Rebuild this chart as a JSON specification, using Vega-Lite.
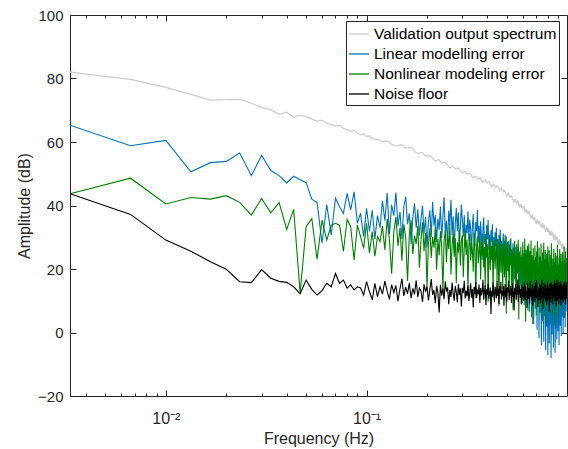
{
"$schema": "https://vega.github.io/schema/vega-lite/v6.json",
"width": 497, "height": 381,
"autosize": {"type": "none"},
"padding": {"left": 70, "top": 15, "right": 1, "bottom": 53},
"background": "white",
"config": {
 "view": {"stroke": "#262626", "strokeWidth": 1},
 "font": "Liberation Sans",
 "axis": {"domain": false, "tickColor": "#262626", "tickWidth": 1, "labelColor": "#262626", "titleColor": "#262626", "labelFont": "Liberation Sans", "titleFont": "Liberation Sans", "labelFontSize": 15, "titleFontSize": 16, "titleFontWeight": "normal", "grid": false, "labelOverlap": false, "labelFlush": false},
 "legend": {"orient": "none", "legendX": 276, "legendY": 6, "symbolType": "stroke", "symbolSize": 400, "symbolStrokeWidth": 1.3, "labelFontSize": 15.5, "labelFont": "Liberation Sans", "labelColor": "#000000", "strokeColor": "#262626", "fillColor": "#ffffff", "padding": 2, "rowPadding": 0, "labelOffset": 4, "labelLimit": 400}
},
"data": {"values": [
{"f":0.00333,"V":82.0,"L":65.3,"N":43.7,"F":43.7},
{"f":0.00667,"V":79.7,"L":58.8,"N":48.6,"F":37.2},
{"f":0.01,"V":77.2,"L":60.5,"N":40.5,"F":29.1},
{"f":0.01333,"V":75.0,"L":50.6,"N":42.5,"F":25.6},
{"f":0.01667,"V":73.2,"L":53.5,"N":42.0,"F":22.3},
{"f":0.02,"V":73.3,"L":53.9,"N":43.1,"F":19.9},
{"f":0.02333,"V":73.4,"L":56.5,"N":41.0,"F":16.0},
{"f":0.02667,"V":72.2,"L":49.4,"N":37.0,"F":15.7},
{"f":0.03,"V":70.9,"L":55.8,"N":42.2,"F":19.8},
{"f":0.03333,"V":70.1,"L":51.0,"N":37.7,"F":17.1},
{"f":0.03667,"V":68.7,"L":49.4,"N":40.9,"F":16.1},
{"f":0.04,"V":69.4,"L":47.1,"N":32.5,"F":15.8},
{"f":0.04333,"V":67.8,"L":49.2,"N":38.8,"F":14.4},
{"f":0.04667,"V":68.5,"L":48.1,"N":12.5,"F":12.2},
{"f":0.05,"V":68.0,"L":47.2,"N":33.3,"F":16.5},
{"f":0.05333,"V":67.2,"L":42.0,"N":35.9,"F":13.6},
{"f":0.05667,"V":66.6,"L":41.0,"N":23.1,"F":11.8},
{"f":0.06,"V":66.9,"L":28.1,"N":35.4,"F":13.2},
{"f":0.06333,"V":65.9,"L":40.3,"N":29.1,"F":15.5},
{"f":0.06667,"V":65.5,"L":30.7,"N":33.8,"F":14.4},
{"f":0.07,"V":65.0,"L":42.3,"N":34.4,"F":18.6},
{"f":0.07333,"V":65.3,"L":39.6,"N":33.8,"F":15.5},
{"f":0.07667,"V":64.2,"L":37.5,"N":25.5,"F":16.5},
{"f":0.08,"V":63.9,"L":43.8,"N":35.6,"F":14.0},
{"f":0.08333,"V":63.4,"L":38.6,"N":33.3,"F":15.0},
{"f":0.08667,"V":63.6,"L":44.3,"N":22.8,"F":13.4},
{"f":0.09,"V":62.8,"L":34.4,"N":33.8,"F":14.4},
{"f":0.09333,"V":62.3,"L":37.5,"N":30.2,"F":14.0},
{"f":0.09667,"V":62.6,"L":30.2,"N":26.5,"F":11.8},
{"f":0.1,"V":61.7,"L":39.1,"N":34.4,"F":16.0},
{"f":0.1033,"V":61.9,"L":31.8,"N":25.0,"F":12.9},
{"f":0.1067,"V":61.2,"L":38.5,"N":31.8,"F":10.3},
{"f":0.11,"V":60.8,"L":29.5,"N":24.0,"F":15.5},
{"f":0.1133,"V":61.0,"L":36.8,"N":30.2,"F":11.3},
{"f":0.1167,"V":60.4,"L":33.0,"N":28.6,"F":14.4},
{"f":0.12,"V":60.2,"L":41.5,"N":33.5,"F":12.1},
{"f":0.1233,"V":60.3,"L":35.2,"N":26.0,"F":16.2},
{"f":0.1267,"V":60.3,"L":43.9,"N":35.8,"F":13.0},
{"f":0.13,"V":59.9,"L":31.0,"N":29.1,"F":10.4},
{"f":0.1333,"V":59.3,"L":40.2,"N":18.5,"F":15.1},
{"f":0.1367,"V":58.9,"L":36.8,"N":31.7,"F":12.6},
{"f":0.14,"V":58.7,"L":44.1,"N":36.4,"F":14.8},
{"f":0.1433,"V":58.8,"L":33.5,"N":27.3,"F":9.9},
{"f":0.1467,"V":59.1,"L":38.0,"N":32.9,"F":13.7},
{"f":0.15,"V":59.2,"L":29.4,"N":22.6,"F":17.0},
{"f":0.1533,"V":58.7,"L":39.6,"N":34.1,"F":11.5},
{"f":0.1567,"V":58.1,"L":42.8,"N":29.8,"F":14.3},
{"f":0.16,"V":58.2,"L":34.1,"N":16.2,"F":12.2},
{"f":0.1633,"V":58.3,"L":37.5,"N":31.0,"F":15.6},
{"f":0.1667,"V":58.2,"L":27.9,"N":35.3,"F":10.8},
{"f":0.17,"V":57.8,"L":36.2,"N":24.7,"F":13.9},
{"f":0.1733,"V":57.2,"L":40.7,"N":30.5,"F":12.0},
{"f":0.1767,"V":56.7,"L":33.0,"N":27.9,"F":16.4},
{"f":0.18,"V":56.4,"L":38.8,"N":33.6,"F":11.2},
{"f":0.1833,"V":56.5,"L":30.5,"N":20.4,"F":14.0},
{"f":0.1867,"V":56.7,"L":35.7,"N":29.2,"F":13.1},
{"f":0.19,"V":56.7,"L":39.9,"N":34.7,"F":9.6},
{"f":0.1933,"V":56.1,"L":31.2,"N":25.6,"F":15.2},
{"f":0.1967,"V":55.5,"L":36.4,"N":31.4,"F":12.8},
{"f":0.2,"V":55.6,"L":26.8,"N":14.1,"F":14.5},
{"f":0.2033,"V":55.7,"L":34.9,"N":28.0,"F":10.1},
{"f":0.2067,"V":55.7,"L":38.5,"N":32.8,"F":13.6},
{"f":0.21,"V":55.3,"L":30.1,"N":23.5,"F":16.8},
{"f":0.2133,"V":54.8,"L":41.2,"N":30.1,"F":11.9},
{"f":0.2167,"V":54.3,"L":33.6,"N":26.7,"F":13.3},
{"f":0.22,"V":54.0,"L":37.0,"N":33.2,"F":9.2},
{"f":0.2233,"V":54.1,"L":28.5,"N":19.8,"F":14.7},
{"f":0.2267,"V":54.4,"L":35.8,"N":29.5,"F":12.4},
{"f":0.23,"V":54.4,"L":32.4,"N":24.3,"F":6.3},
{"f":0.2333,"V":53.9,"L":39.7,"N":31.9,"F":15.0},
{"f":0.2367,"V":53.3,"L":29.8,"N":27.0,"F":11.6},
{"f":0.24,"V":53.4,"L":36.1,"N":12.9,"F":13.8},
{"f":0.2433,"V":53.6,"L":42.6,"N":28.8,"F":10.5},
{"f":0.2467,"V":53.6,"L":31.5,"N":32.2,"F":16.1},
{"f":0.25,"V":53.2,"L":35.2,"N":22.1,"F":12.9},
{"f":0.2533,"V":52.6,"L":27.6,"N":30.6,"F":14.2},
{"f":0.2567,"V":52.2,"L":38.4,"N":26.2,"F":8.9},
{"f":0.26,"V":51.9,"L":33.9,"N":34.0,"F":13.4},
{"f":0.2633,"V":52.0,"L":41.8,"N":18.3,"F":11.1},
{"f":0.2667,"V":52.3,"L":30.7,"N":27.5,"F":15.7},
{"f":0.27,"V":52.3,"L":36.6,"N":31.1,"F":12.3},
{"f":0.2733,"V":51.9,"L":25.9,"N":23.9,"F":10.0},
{"f":0.2767,"V":51.4,"L":34.3,"N":29.7,"F":14.6},
{"f":0.28,"V":51.6,"L":39.2,"N":15.6,"F":12.7},
{"f":0.2833,"V":51.7,"L":32.0,"N":28.4,"F":9.5},
{"f":0.2867,"V":51.8,"L":37.8,"N":25.1,"F":15.3},
{"f":0.29,"V":51.5,"L":28.4,"N":32.5,"F":11.8},
{"f":0.2933,"V":50.9,"L":33.1,"N":21.0,"F":13.9},
{"f":0.2967,"V":50.5,"L":40.3,"N":28.9,"F":8.2},
{"f":0.3,"V":50.3,"L":35.5,"N":30.7,"F":14.1},
{"f":0.3033,"V":50.4,"L":30.2,"N":17.4,"F":12.5},
{"f":0.3067,"V":50.7,"L":36.9,"N":26.6,"F":16.3},
{"f":0.31,"V":50.8,"L":26.7,"N":31.8,"F":10.7},
{"f":0.3133,"V":50.4,"L":34.0,"N":24.5,"F":13.2},
{"f":0.3167,"V":49.8,"L":31.3,"N":29.3,"F":11.4},
{"f":0.32,"V":50.0,"L":38.1,"N":13.2,"F":14.8},
{"f":0.3233,"V":50.2,"L":29.0,"N":27.4,"F":9.9},
{"f":0.3267,"V":50.2,"L":35.6,"N":30.9,"F":12.6},
{"f":0.33,"V":49.9,"L":32.7,"N":22.7,"F":15.5},
{"f":0.3333,"V":49.4,"L":24.8,"N":28.2,"F":11.0},
{"f":0.3367,"V":48.9,"L":33.4,"N":25.9,"F":13.7},
{"f":0.34,"V":48.7,"L":37.3,"N":19.1,"F":7.9},
{"f":0.3433,"V":48.9,"L":30.6,"N":31.5,"F":14.4},
{"f":0.3467,"V":49.2,"L":27.2,"N":26.3,"F":12.1},
{"f":0.35,"V":49.2,"L":34.8,"N":10.8,"F":16.0},
{"f":0.3533,"V":48.8,"L":31.9,"N":27.1,"F":10.9},
{"f":0.3567,"V":48.4,"L":38.6,"N":30.2,"F":13.5},
{"f":0.36,"V":48.3,"L":28.3,"N":21.8,"F":12.0},
{"f":0.3633,"V":48.8,"L":33.5,"N":25.6,"F":15.1},
{"f":0.3667,"V":48.6,"L":26.1,"N":29.6,"F":9.4},
{"f":0.37,"V":48.6,"L":35.0,"N":16.7,"F":14.0},
{"f":0.3733,"V":47.8,"L":30.4,"N":28.5,"F":11.7},
{"f":0.3767,"V":47.7,"L":22.9,"N":24.2,"F":13.0},
{"f":0.38,"V":47.2,"L":32.6,"N":31.0,"F":16.6},
{"f":0.3833,"V":47.7,"L":36.2,"N":20.5,"F":10.3},
{"f":0.3867,"V":47.7,"L":27.8,"N":26.9,"F":12.8},
{"f":0.39,"V":48.1,"L":31.0,"N":14.4,"F":14.9},
{"f":0.3933,"V":47.4,"L":24.6,"N":29.9,"F":8.6},
{"f":0.3967,"V":47.2,"L":33.9,"N":23.6,"F":13.6},
{"f":0.4,"V":47.1,"L":29.3,"N":27.8,"F":11.9},
{"f":0.4033,"V":47.6,"L":35.4,"N":9.7,"F":15.4},
{"f":0.4067,"V":47.4,"L":26.0,"N":25.3,"F":10.6},
{"f":0.41,"V":47.4,"L":30.8,"N":30.4,"F":12.4},
{"f":0.4133,"V":46.5,"L":21.7,"N":19.6,"F":14.2},
{"f":0.4167,"V":46.4,"L":32.2,"N":27.2,"F":5.8},
{"f":0.42,"V":45.9,"L":28.6,"N":22.9,"F":13.1},
{"f":0.4233,"V":46.4,"L":34.1,"N":29.1,"F":11.3},
{"f":0.4267,"V":46.4,"L":25.3,"N":12.3,"F":15.8},
{"f":0.43,"V":46.8,"L":30.0,"N":26.0,"F":12.2},
{"f":0.4333,"V":46.1,"L":22.4,"N":28.7,"F":9.7},
{"f":0.4367,"V":45.9,"L":31.6,"N":20.1,"F":14.5},
{"f":0.44,"V":45.8,"L":27.2,"N":24.8,"F":12.9},
{"f":0.4433,"V":46.3,"L":33.0,"N":30.6,"F":10.8},
{"f":0.4467,"V":46.1,"L":24.1,"N":15.9,"F":16.2},
{"f":0.45,"V":46.1,"L":29.5,"N":27.7,"F":11.5},
{"f":0.4533,"V":45.3,"L":20.8,"N":23.2,"F":13.8},
{"f":0.4567,"V":45.2,"L":30.7,"N":8.4,"F":9.0},
{"f":0.46,"V":44.7,"L":26.5,"N":26.5,"F":14.6},
{"f":0.4633,"V":45.2,"L":32.4,"N":29.4,"F":12.3},
{"f":0.4667,"V":45.2,"L":23.3,"N":18.9,"F":15.9},
{"f":0.47,"V":45.6,"L":28.9,"N":25.0,"F":10.4},
{"f":0.4733,"V":44.8,"L":18.7,"N":28.3,"F":13.2},
{"f":0.4767,"V":44.6,"L":27.6,"N":13.6,"F":11.6},
{"f":0.48,"V":44.4,"L":31.2,"N":24.4,"F":14.7},
{"f":0.4833,"V":44.9,"L":24.0,"N":27.9,"F":8.4},
{"f":0.4867,"V":44.5,"L":29.0,"N":17.5,"F":12.7},
{"f":0.49,"V":44.6,"L":21.5,"N":30.8,"F":15.3},
{"f":0.4933,"V":43.7,"L":26.8,"N":22.3,"F":11.0},
{"f":0.4967,"V":43.6,"L":30.3,"N":5.9,"F":13.9},
{"f":0.5,"V":43.0,"L":19.4,"N":26.2,"F":9.8},
{"f":0.5033,"V":43.5,"L":27.3,"N":28.6,"F":14.3},
{"f":0.5067,"V":43.4,"L":23.8,"N":19.3,"F":12.5},
{"f":0.51,"V":43.8,"L":28.7,"N":24.1,"F":16.4},
{"f":0.5133,"V":43.0,"L":17.6,"N":11.4,"F":10.2},
{"f":0.5167,"V":42.8,"L":25.9,"N":27.5,"F":13.4},
{"f":0.52,"V":42.6,"L":29.4,"N":21.2,"F":11.7},
{"f":0.5233,"V":43.1,"L":22.1,"N":29.7,"F":14.8},
{"f":0.5267,"V":42.8,"L":26.2,"N":15.0,"F":9.3},
{"f":0.53,"V":42.8,"L":14.8,"N":25.8,"F":13.0},
{"f":0.5333,"V":41.9,"L":24.7,"N":23.0,"F":15.6},
{"f":0.5367,"V":41.8,"L":28.1,"N":7.2,"F":11.2},
{"f":0.54,"V":41.2,"L":20.3,"N":26.7,"F":12.8},
{"f":0.5433,"V":41.7,"L":25.4,"N":20.4,"F":6.9},
{"f":0.5467,"V":41.5,"L":16.9,"N":28.9,"F":14.1},
{"f":0.55,"V":42.1,"L":27.0,"N":16.3,"F":12.0},
{"f":0.5533,"V":41.1,"L":22.7,"N":24.6,"F":15.2},
{"f":0.5567,"V":41.1,"L":13.5,"N":10.1,"F":10.5},
{"f":0.56,"V":40.7,"L":24.2,"N":27.8,"F":13.6},
{"f":0.5633,"V":41.5,"L":26.9,"N":22.0,"F":11.9},
{"f":0.5667,"V":40.9,"L":18.6,"N":18.6,"F":16.7},
{"f":0.57,"V":41.2,"L":23.1,"N":29.2,"F":9.6},
{"f":0.5733,"V":40.0,"L":11.9,"N":4.1,"F":13.3},
{"f":0.5767,"V":40.2,"L":25.6,"N":25.2,"F":12.2},
{"f":0.58,"V":39.4,"L":20.0,"N":21.5,"F":14.9},
{"f":0.5833,"V":40.1,"L":15.7,"N":14.7,"F":10.9},
{"f":0.5867,"V":39.8,"L":24.4,"N":27.0,"F":13.7},
{"f":0.59,"V":40.4,"L":19.2,"N":19.9,"F":8.8},
{"f":0.5933,"V":39.4,"L":9.8,"N":23.8,"F":15.0},
{"f":0.5967,"V":39.4,"L":22.6,"N":9.3,"F":12.4},
{"f":0.6,"V":39.0,"L":26.0,"N":28.4,"F":11.1},
{"f":0.6033,"V":39.8,"L":16.4,"N":17.1,"F":14.4},
{"f":0.6067,"V":39.2,"L":21.3,"N":24.9,"F":9.9},
{"f":0.61,"V":39.5,"L":8.7,"N":12.2,"F":16.0},
{"f":0.6133,"V":38.3,"L":23.5,"N":29.6,"F":12.6},
{"f":0.6167,"V":38.5,"L":18.1,"N":20.7,"F":10.3},
{"f":0.62,"V":37.7,"L":12.6,"N":3.4,"F":14.5},
{"f":0.6233,"V":38.4,"L":22.0,"N":26.1,"F":11.8},
{"f":0.6267,"V":38.1,"L":25.1,"N":22.6,"F":13.1},
{"f":0.63,"V":38.7,"L":14.9,"N":15.5,"F":7.7},
{"f":0.6333,"V":37.7,"L":20.4,"N":27.3,"F":15.5},
{"f":0.6367,"V":37.7,"L":6.9,"N":11.0,"F":12.0},
{"f":0.64,"V":37.3,"L":21.8,"N":23.4,"F":10.6},
{"f":0.6433,"V":38.3,"L":17.3,"N":28.0,"F":14.0},
{"f":0.6467,"V":37.3,"L":24.3,"N":6.5,"F":13.0},
{"f":0.65,"V":38.0,"L":10.5,"N":21.9,"F":9.1},
{"f":0.6533,"V":36.4,"L":19.5,"N":25.7,"F":16.3},
{"f":0.6567,"V":37.0,"L":15.2,"N":16.8,"F":11.4},
{"f":0.66,"V":35.7,"L":22.9,"N":29.0,"F":13.9},
{"f":0.6633,"V":36.9,"L":4.8,"N":13.4,"F":12.5},
{"f":0.6667,"V":36.1,"L":18.7,"N":24.3,"F":10.0},
{"f":0.67,"V":37.2,"L":21.4,"N":19.0,"F":15.1},
{"f":0.6733,"V":35.7,"L":11.2,"N":2.7,"F":8.5},
{"f":0.6767,"V":36.2,"L":16.8,"N":26.6,"F":13.5},
{"f":0.68,"V":35.3,"L":2.6,"N":18.2,"F":11.6},
{"f":0.6833,"V":36.5,"L":20.1,"N":22.8,"F":14.6},
{"f":0.6867,"V":35.5,"L":14.3,"N":10.6,"F":12.2},
{"f":0.69,"V":36.2,"L":23.0,"N":27.4,"F":9.5},
{"f":0.6933,"V":34.7,"L":7.5,"N":15.9,"F":15.8},
{"f":0.6967,"V":35.3,"L":17.9,"N":23.7,"F":11.0},
{"f":0.7,"V":34.1,"L":12.1,"N":5.3,"F":13.4},
{"f":0.7033,"V":35.3,"L":19.8,"N":25.5,"F":16.5},
{"f":0.7067,"V":34.6,"L":0.9,"N":20.2,"F":10.7},
{"f":0.71,"V":35.7,"L":15.6,"N":28.7,"F":12.9},
{"f":0.7133,"V":34.3,"L":21.7,"N":12.8,"F":8.0},
{"f":0.7167,"V":34.8,"L":9.0,"N":21.1,"F":14.2},
{"f":0.72,"V":34.0,"L":16.4,"N":17.3,"F":11.3},
{"f":0.7233,"V":35.2,"L":-1.8,"N":26.8,"F":13.7},
{"f":0.7267,"V":34.3,"L":13.7,"N":8.0,"F":10.1},
{"f":0.73,"V":35.0,"L":19.3,"N":24.0,"F":15.3},
{"f":0.7333,"V":33.5,"L":6.2,"N":19.6,"F":12.4},
{"f":0.7367,"V":34.1,"L":15.0,"N":13.9,"F":9.2},
{"f":0.74,"V":32.9,"L":10.8,"N":27.9,"F":14.8},
{"f":0.7433,"V":34.1,"L":-4.1,"N":4.6,"F":11.9},
{"f":0.7467,"V":33.4,"L":18.2,"N":22.5,"F":16.9},
{"f":0.75,"V":34.5,"L":12.5,"N":16.0,"F":10.4},
{"f":0.7533,"V":33.1,"L":3.7,"N":25.2,"F":13.2},
{"f":0.7567,"V":33.6,"L":16.9,"N":11.5,"F":7.3},
{"f":0.76,"V":32.8,"L":8.4,"N":20.9,"F":14.3},
{"f":0.7633,"V":34.0,"L":-2.9,"N":28.3,"F":12.1},
{"f":0.7667,"V":33.1,"L":14.6,"N":14.2,"F":15.7},
{"f":0.77,"V":33.8,"L":20.5,"N":23.1,"F":10.8},
{"f":0.7733,"V":32.3,"L":5.1,"N":7.8,"F":13.6},
{"f":0.7767,"V":32.9,"L":11.7,"N":26.0,"F":9.7},
{"f":0.78,"V":31.7,"L":-5.6,"N":18.4,"F":15.0},
{"f":0.7833,"V":32.9,"L":13.8,"N":3.0,"F":11.5},
{"f":0.7867,"V":32.2,"L":17.4,"N":21.6,"F":14.1},
{"f":0.79,"V":33.3,"L":1.9,"N":24.7,"F":8.7},
{"f":0.7933,"V":31.9,"L":9.6,"N":12.4,"F":12.7},
{"f":0.7967,"V":32.4,"L":15.3,"N":19.2,"F":16.2},
{"f":0.8,"V":31.6,"L":-7.2,"N":27.1,"F":10.2},
{"f":0.8033,"V":32.8,"L":12.0,"N":9.9,"F":13.9},
{"f":0.8067,"V":31.9,"L":4.4,"N":22.2,"F":11.2},
{"f":0.81,"V":32.6,"L":16.1,"N":15.1,"F":14.6},
{"f":0.8133,"V":31.1,"L":-3.5,"N":25.9,"F":6.6},
{"f":0.8167,"V":31.7,"L":10.2,"N":6.1,"F":12.9},
{"f":0.82,"V":30.5,"L":18.8,"N":20.3,"F":15.4},
{"f":0.8233,"V":31.7,"L":2.8,"N":17.7,"F":10.5},
{"f":0.8267,"V":31.0,"L":13.1,"N":24.4,"F":13.3},
{"f":0.83,"V":32.1,"L":-8.1,"N":11.3,"F":9.4},
{"f":0.8333,"V":30.7,"L":7.9,"N":28.1,"F":16.0},
{"f":0.8367,"V":31.2,"L":14.9,"N":14.6,"F":11.7},
{"f":0.84,"V":30.3,"L":-0.6,"N":21.0,"F":14.4},
{"f":0.8433,"V":31.7,"L":11.4,"N":5.5,"F":12.0},
{"f":0.8467,"V":30.6,"L":5.7,"N":23.3,"F":8.9},
{"f":0.85,"V":31.4,"L":17.0,"N":18.8,"F":15.2},
{"f":0.8533,"V":29.7,"L":-4.8,"N":10.0,"F":10.9},
{"f":0.8567,"V":30.5,"L":9.3,"N":26.4,"F":13.8},
{"f":0.86,"V":29.1,"L":15.8,"N":16.5,"F":12.3},
{"f":0.8633,"V":30.5,"L":3.2,"N":22.1,"F":16.6},
{"f":0.8667,"V":29.6,"L":12.7,"N":2.2,"F":9.9},
{"f":0.87,"V":30.9,"L":-6.4,"N":19.7,"F":14.0},
{"f":0.8733,"V":29.2,"L":8.5,"N":25.0,"F":11.4},
{"f":0.8767,"V":29.9,"L":16.6,"N":13.2,"F":15.5},
{"f":0.88,"V":28.9,"L":1.3,"N":20.6,"F":8.2},
{"f":0.8833,"V":30.3,"L":11.0,"N":8.8,"F":13.1},
{"f":0.8867,"V":29.2,"L":-2.2,"N":24.1,"F":12.6},
{"f":0.89,"V":30.1,"L":14.2,"N":17.0,"F":16.8},
{"f":0.8933,"V":28.4,"L":6.6,"N":27.6,"F":10.1},
{"f":0.8967,"V":29.1,"L":18.5,"N":12.0,"F":14.7},
{"f":0.9,"V":27.7,"L":0.4,"N":21.4,"F":11.8},
{"f":0.9033,"V":29.1,"L":10.7,"N":15.8,"F":13.5},
{"f":0.9067,"V":28.2,"L":15.4,"N":4.9,"F":9.0},
{"f":0.91,"V":29.5,"L":-3.9,"N":23.6,"F":15.9},
{"f":0.9133,"V":27.9,"L":12.9,"N":18.3,"F":12.4},
{"f":0.9167,"V":28.6,"L":7.3,"N":26.2,"F":10.6},
{"f":0.92,"V":27.5,"L":17.7,"N":9.6,"F":14.9},
{"f":0.9233,"V":28.9,"L":2.1,"N":20.0,"F":11.1},
{"f":0.9267,"V":27.8,"L":13.5,"N":14.0,"F":16.3},
{"f":0.93,"V":28.7,"L":9.4,"N":24.8,"F":8.6},
{"f":0.9333,"V":27.0,"L":-1.1,"N":11.9,"F":13.4},
{"f":0.9367,"V":27.8,"L":15.2,"N":22.4,"F":12.2},
{"f":0.94,"V":26.4,"L":5.0,"N":17.6,"F":15.1},
{"f":0.9433,"V":27.7,"L":19.6,"N":7.0,"F":10.3},
{"f":0.9467,"V":26.8,"L":8.1,"N":25.3,"F":14.2},
{"f":0.95,"V":28.1,"L":13.0,"N":19.1,"F":11.9},
{"f":0.9533,"V":26.5,"L":-0.2,"N":13.3,"F":9.5},
{"f":0.9567,"V":27.2,"L":16.3,"N":21.8,"F":15.6},
{"f":0.96,"V":26.2,"L":10.4,"N":16.1,"F":12.8},
{"f":0.9633,"V":27.5,"L":4.6,"N":27.0,"F":13.7},
{"f":0.9667,"V":26.4,"L":18.9,"N":10.7,"F":10.4},
{"f":0.97,"V":27.3,"L":7.7,"N":23.0,"F":16.1},
{"f":0.9733,"V":25.6,"L":14.1,"N":18.0,"F":11.3},
{"f":0.9767,"V":26.4,"L":1.6,"N":14.5,"F":14.5},
{"f":0.98,"V":25.0,"L":11.8,"N":25.5,"F":8.8},
{"f":0.9833,"V":26.4,"L":17.2,"N":20.8,"F":13.0},
{"f":0.9867,"V":25.4,"L":6.8,"N":12.7,"F":15.8},
{"f":0.99,"V":26.7,"L":15.5,"N":22.0,"F":10.7},
{"f":0.9933,"V":25.1,"L":21.0,"N":17.8,"F":14.1},
{"f":0.9967,"V":25.8,"L":12.3,"N":23.5,"F":12.5}
]},
"layer": [
 {"mark": {"type": "line", "strokeWidth": 1.2, "clip": true},
  "encoding": {
   "x": {"field": "f", "type": "quantitative", "scale": {"type": "log", "domain": [0.00333, 0.9967], "nice": false},
     "axis": {"orient": "bottom", "offset": -6, "tickSize": 6, "title": "Frequency (Hz)", "titlePadding": 4, "labelPadding": 14, "labelFontSize": 16,
       "values": [0.01, 0.1],
       "labelExpr": "datum.value == 0.01 ? '10⁻²' : '10⁻¹'"}},
   "y": {"field": "V", "type": "quantitative", "scale": {"domain": [-20, 100], "nice": false, "zero": false},
     "axis": {"orient": "left", "offset": -6, "tickSize": 6, "title": "Amplitude (dB)", "values": [-20,0,20,40,60,80,100], "titlePadding": 5, "labelPadding": 7}},
   "color": {"datum": "Validation output spectrum", "type": "nominal",
     "scale": {"domain": ["Validation output spectrum","Linear modelling error","Nonlinear modeling error","Noise floor"], "range": ["#cccccc","#0072bd","#008000","#000000"]},
     "legend": {"title": null}}
  }},
 {"mark": {"type": "line", "strokeWidth": 1.1, "clip": true},
  "encoding": {
   "x": {"field": "f", "type": "quantitative", "scale": {"type": "log", "domain": [0.00333, 0.9967], "nice": false},
     "axis": {"orient": "bottom", "offset": -3, "tickSize": 3, "title": null, "labels": false,
       "values": [0.004,0.005,0.006,0.007,0.008,0.009,0.02,0.03,0.04,0.05,0.06,0.07,0.08,0.09,0.2,0.3,0.4,0.5,0.6,0.7,0.8,0.9]}},
   "y": {"field": "L", "type": "quantitative", "scale": {"domain": [-20, 100], "nice": false, "zero": false},
     "axis": {"orient": "right", "offset": -6, "tickSize": 6, "title": null, "labels": false, "values": [-20,0,20,40,60,80,100]}},
   "color": {"datum": "Linear modelling error", "type": "nominal"}
  }},
 {"mark": {"type": "line", "strokeWidth": 1.1, "clip": true},
  "encoding": {
   "x": {"field": "f", "type": "quantitative", "scale": {"type": "log", "domain": [0.00333, 0.9967], "nice": false},
     "axis": {"orient": "top", "offset": -6, "tickSize": 6, "title": null, "labels": false, "values": [0.01, 0.1]}},
   "y": {"field": "N", "type": "quantitative", "axis": null},
   "color": {"datum": "Nonlinear modeling error", "type": "nominal"}
  }},
 {"mark": {"type": "line", "strokeWidth": 1.1, "clip": true},
  "encoding": {
   "x": {"field": "f", "type": "quantitative", "scale": {"type": "log", "domain": [0.00333, 0.9967], "nice": false},
     "axis": {"orient": "top", "offset": -3, "tickSize": 3, "title": null, "labels": false,
       "values": [0.004,0.005,0.006,0.007,0.008,0.009,0.02,0.03,0.04,0.05,0.06,0.07,0.08,0.09,0.2,0.3,0.4,0.5,0.6,0.7,0.8,0.9]}},
   "y": {"field": "F", "type": "quantitative", "axis": null},
   "color": {"datum": "Noise floor", "type": "nominal"}
  }}
],
"resolve": {"axis": {"x": "independent", "y": "independent"}}
}
